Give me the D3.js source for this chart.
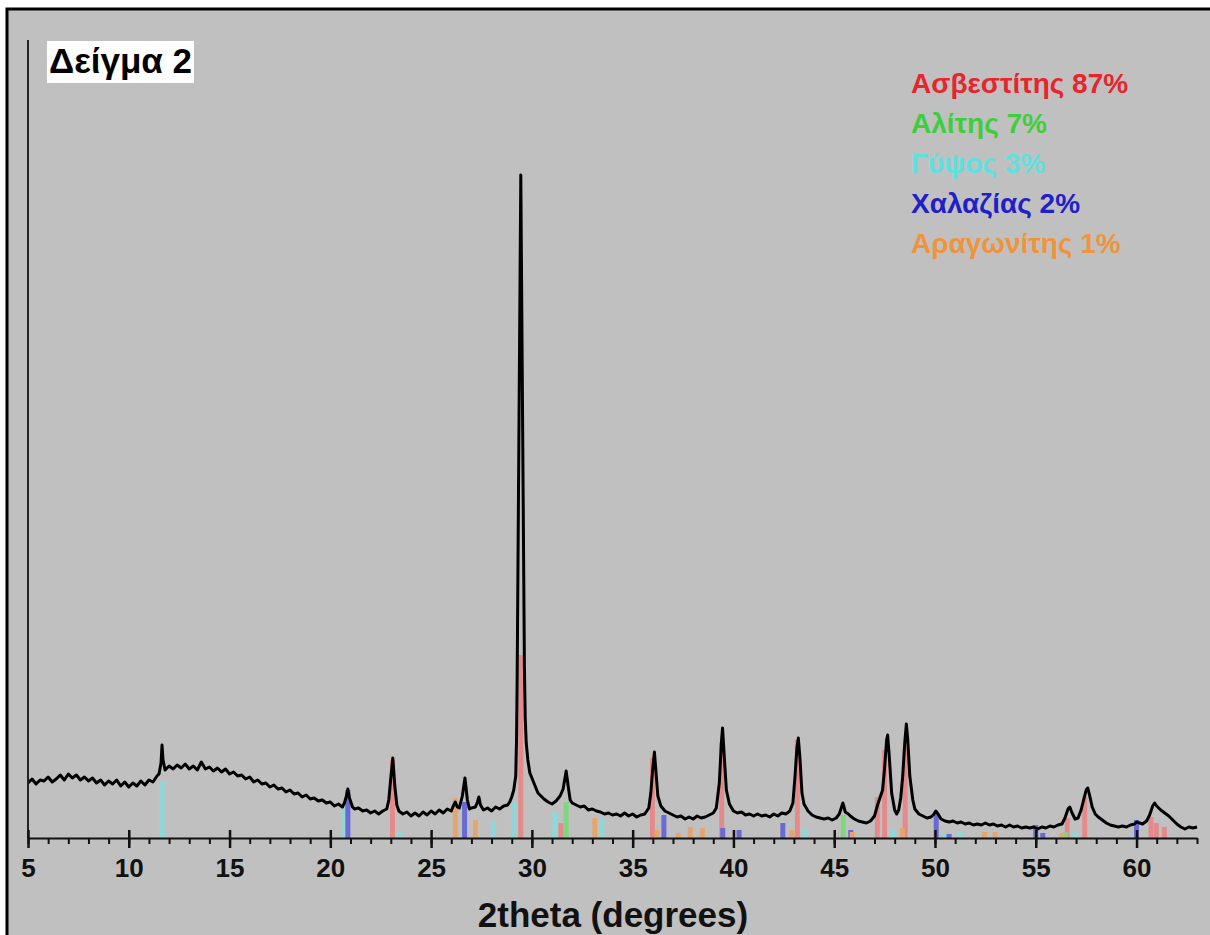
<!DOCTYPE html>
<html>
<head>
<meta charset="utf-8">
<script src="https://cdn.jsdelivr.net/npm/d3@7"></script>
<style>
  body { margin: 0; background: #fff; }
  text { font-family: "Liberation Sans", Arial, sans-serif; font-weight: bold; }
</style>
</head>
<body>
<svg width="1210" height="935"></svg>
<script>
// measured pattern: [2theta, intensity (arb. units)]
const pattern = [
  [5.0,55],[5.2,59],[5.4,54],[5.6,58],[5.8,57],[6.0,61],[6.2,56],[6.4,59],[6.6,63],[6.8,58],
  [7.0,64],[7.2,60],[7.4,63],[7.6,58],[7.8,61],[8.0,57],[8.2,60],[8.4,55],[8.6,58],[8.8,53],
  [9.0,57],[9.2,54],[9.4,58],[9.6,52],[9.8,56],[10.0,51],[10.2,55],[10.4,52],[10.6,57],[10.8,53],
  [11.0,58],[11.2,56],[11.4,62],[11.5,64],[11.6,75],[11.65,93],[11.7,78],[11.8,68],[12.0,72],[12.2,69],
  [12.4,73],[12.6,70],[12.8,74],[13.0,69],[13.2,72],[13.4,68],[13.6,76],[13.8,69],[14.0,71],[14.2,67],
  [14.4,70],[14.6,66],[14.8,69],[15.0,64],[15.2,66],[15.4,62],[15.6,63],[15.8,59],[16.0,61],[16.2,56],
  [16.4,58],[16.6,54],[16.8,55],[17.0,51],[17.2,53],[17.4,49],[17.6,50],[17.8,46],[18.0,48],[18.2,44],
  [18.4,45],[18.6,41],[18.8,43],[19.0,39],[19.2,40],[19.4,37],[19.6,38],[19.8,35],[20.0,36],[20.2,32],
  [20.4,34],[20.6,31],[20.7,35],[20.8,42],[20.87,49],[20.95,40],[21.1,31],[21.2,29],[21.4,30],[21.6,27],
  [21.8,28],[22.0,25],[22.2,27],[22.4,24],[22.6,27],[22.8,29],[22.9,38],[23.0,60],[23.1,80],[23.2,52],
  [23.3,33],[23.4,27],[23.6,24],[23.8,26],[24.0,22],[24.2,25],[24.4,22],[24.6,26],[24.8,23],[25.0,27],
  [25.2,24],[25.4,28],[25.6,25],[25.8,29],[26.0,27],[26.1,32],[26.2,36],[26.3,31],[26.4,30],[26.55,42],
  [26.68,60],[26.8,38],[26.9,29],[27.0,30],[27.2,31],[27.3,36],[27.37,41],[27.45,33],[27.6,28],[27.8,30],
  [28.0,27],[28.2,31],[28.4,29],[28.6,32],[28.8,33],[28.9,36],[29.0,41],[29.1,48],[29.2,62],[29.24,100],
  [29.27,160],[29.45,663],[29.63,170],[29.67,120],[29.72,95],[29.8,78],[29.9,65],[30.0,60],[30.1,55],[30.2,50],
  [30.3,45],[30.4,43],[30.6,39],[30.8,36],[31.0,34],[31.2,37],[31.4,42],[31.55,49],[31.7,67],[31.8,52],
  [31.9,38],[32.0,35],[32.2,33],[32.4,31],[32.6,32],[32.8,28],[33.0,29],[33.2,27],[33.4,26],[33.6,24],
  [33.8,25],[34.0,23],[34.2,24],[34.4,22],[34.6,25],[34.8,22],[35.0,24],[35.2,21],[35.4,23],[35.6,24],
  [35.8,30],[35.9,45],[36.0,70],[36.08,86],[36.15,68],[36.25,42],[36.4,32],[36.6,27],[36.8,25],[37.0,23],
  [37.2,21],[37.4,22],[37.6,19],[37.8,21],[38.0,19],[38.2,22],[38.4,20],[38.6,21],[38.8,23],[39.0,25],
  [39.15,30],[39.3,55],[39.4,95],[39.46,110],[39.55,80],[39.65,48],[39.8,34],[40.0,27],[40.2,25],[40.4,26],
  [40.6,23],[40.8,24],[41.0,22],[41.2,24],[41.4,22],[41.6,23],[41.8,21],[42.0,24],[42.2,22],[42.4,25],
  [42.6,24],[42.8,27],[42.95,35],[43.05,60],[43.15,90],[43.22,100],[43.3,80],[43.4,45],[43.5,34],[43.7,27],
  [43.9,23],[44.1,21],[44.3,20],[44.5,19],[44.7,20],[44.9,18],[45.1,20],[45.25,24],[45.35,30],[45.43,35],
  [45.55,26],[45.7,24],[45.8,22],[46.0,19],[46.2,17],[46.4,16],[46.6,15],[46.8,17],[47.0,22],[47.15,33],
  [47.3,42],[47.4,48],[47.5,70],[47.6,98],[47.65,103],[47.72,85],[47.85,45],[48.0,28],[48.1,24],[48.2,28],
  [48.3,40],[48.4,62],[48.5,95],[48.58,114],[48.65,98],[48.75,62],[48.9,38],[49.0,29],[49.2,24],[49.4,22],
  [49.6,20],[49.8,21],[49.95,24],[50.04,27],[50.15,24],[50.3,19],[50.5,17],[50.7,16],[50.9,17],[51.1,15],
  [51.3,16],[51.5,14],[51.7,15],[51.9,13],[52.1,14],[52.3,13],[52.5,15],[52.7,13],[52.9,14],[53.1,12],
  [53.3,13],[53.5,11],[53.7,13],[53.9,11],[54.1,12],[54.3,10],[54.5,11],[54.7,10],[54.9,11],[55.1,9],
  [55.3,11],[55.5,10],[55.7,12],[55.9,11],[56.1,13],[56.3,14],[56.45,20],[56.6,29],[56.69,31],[56.8,25],
  [56.95,19],[57.1,20],[57.25,28],[57.4,40],[57.5,48],[57.58,50],[57.68,42],[57.8,31],[57.95,24],[58.1,21],
  [58.3,18],[58.5,15],[58.7,13],[58.9,12],[59.1,11],[59.3,12],[59.5,11],[59.7,13],[59.9,14],[60.0,16],
  [60.15,15],[60.3,14],[60.5,17],[60.65,23],[60.8,32],[60.9,35],[61.0,32],[61.2,28],[61.4,25],[61.6,22],
  [61.8,18],[62.0,14],[62.2,11],[62.4,9],[62.6,11],[62.8,10],[63.0,11]
];

// reference sticks per phase: [2theta, height]
const calcite = [[23.08,78],[29.45,183],[31.44,15],[35.98,80],[39.42,95],[43.17,98],[47.14,41],[47.5,88],[48.52,91],[56.56,20],[57.43,41],[60.72,21],[60.98,15],[61.38,11]];
const halite = [[31.7,36],[45.45,23],[56.48,6]];
const gypsum = [[11.65,56],[20.72,30],[23.42,6],[28.08,16],[29.1,36],[31.14,26],[33.47,20],[43.54,8],[47.9,8],[50.45,5],[51.25,6],[56.95,6]];
const quartz = [[20.87,48],[26.66,36],[36.55,23],[39.47,10],[40.28,8],[42.45,15],[45.82,8],[50.06,25],[50.7,4],[55.0,13],[55.35,5],[60.0,18]];
const aragonite = [[26.2,40],[27.2,18],[33.12,20],[36.2,8],[37.25,5],[37.86,11],[38.46,10],[42.9,8],[45.9,6],[48.38,10],[52.45,6],[52.98,6],[56.3,5]];

const phases = ["Ασβεστίτης 87%", "Αλίτης 7%", "Γύψος 3%", "Χαλαζίας 2%", "Αραγωνίτης 1%"];
const phaseText = ["#e8242c", "#3ccf3c", "#5ce0e0", "#2020c8", "#f0943c"];
const phaseStick = ["#e48a8a", "#7ed67e", "#8ed8d8", "#6a6ad4", "#e4a66e"];
const sticks = [calcite, halite, gypsum, quartz, aragonite];

const majorTicks = [5, 10, 15, 20, 25, 30, 35, 40, 45, 50, 55, 60];
const minorTicks = d3.range(5, 64, 1);

const svg = d3.select("svg");

// frame + background
svg.append("rect")
    .attr("x", 7).attr("y", 9)
    .attr("width", 1220).attr("height", 940)
    .attr("fill", "#c0c0c0")
    .attr("stroke", "#000").attr("stroke-width", 3);

const x = d3.scaleLinear().domain([5, 63]).range([28, 1197]);
const y = d3.scaleLinear().domain([0, 800]).range([838, 38]);

// sticks first, pattern on top
const stickG = svg.append("g");
sticks.forEach((list, i) => {
    stickG.selectAll(null)
        .data(list)
        .enter().append("rect")
        .attr("x", d => x(d[0]) - 2.5)
        .attr("width", 5)
        .attr("y", d => y(d[1]))
        .attr("height", d => y(0) - y(d[1]))
        .attr("fill", phaseStick[i]);
});

const line = d3.line()
    .x(d => x(d[0]))
    .y(d => y(d[1]));

svg.append("path")
    .datum(pattern)
    .attr("fill", "none")
    .attr("stroke", "#000")
    .attr("stroke-width", 3)
    .attr("stroke-linejoin", "round")
    .attr("d", line);

// y axis line (no ticks)
svg.append("line")
    .attr("x1", 28).attr("x2", 28)
    .attr("y1", 40).attr("y2", y(0))
    .attr("stroke", "#222").attr("stroke-width", 2);

// x axis
const minorAxis = d3.axisBottom(x).tickValues(minorTicks).tickSize(6).tickFormat("");
svg.append("g")
    .attr("transform", `translate(0,${y(0)})`)
    .call(minorAxis)
    .call(g => g.select(".domain").remove())
    .call(g => g.selectAll(".tick line").attr("stroke", "#111").attr("stroke-width", 2));

const majorAxis = d3.axisBottom(x).tickValues(majorTicks).tickSize(10).tickSizeOuter(0).tickPadding(11);
const xAxis = svg.append("g")
    .attr("transform", `translate(0,${y(0)})`)
    .call(majorAxis);
xAxis.select(".domain").attr("stroke", "#111").attr("stroke-width", 2);
xAxis.selectAll(".tick line").attr("y1", -8).attr("stroke", "#111").attr("stroke-width", 2.5);
xAxis.selectAll(".tick text")
    .attr("font-size", 26)
    .attr("font-family", "Liberation Sans, Arial, sans-serif")
    .attr("font-weight", "bold")
    .attr("fill", "#111");

svg.append("text")
    .attr("x", 613).attr("y", 927)
    .attr("text-anchor", "middle")
    .attr("font-size", 35)
    .attr("fill", "#111")
    .text("2theta (degrees)");

// sample label
svg.append("rect")
    .attr("x", 47).attr("y", 41)
    .attr("width", 147).attr("height", 42)
    .attr("fill", "#fff");
svg.append("text")
    .attr("x", 49).attr("y", 73)
    .attr("font-size", 35)
    .attr("fill", "#000")
    .text("Δείγμα 2");

// legend
svg.append("g").selectAll("text")
    .data(phases)
    .enter().append("text")
    .attr("x", 911)
    .attr("y", (d, i) => 93 + i * 40)
    .attr("font-size", 28)
    .attr("fill", (d, i) => phaseText[i])
    .text(d => d);
</script>
</body>
</html>
